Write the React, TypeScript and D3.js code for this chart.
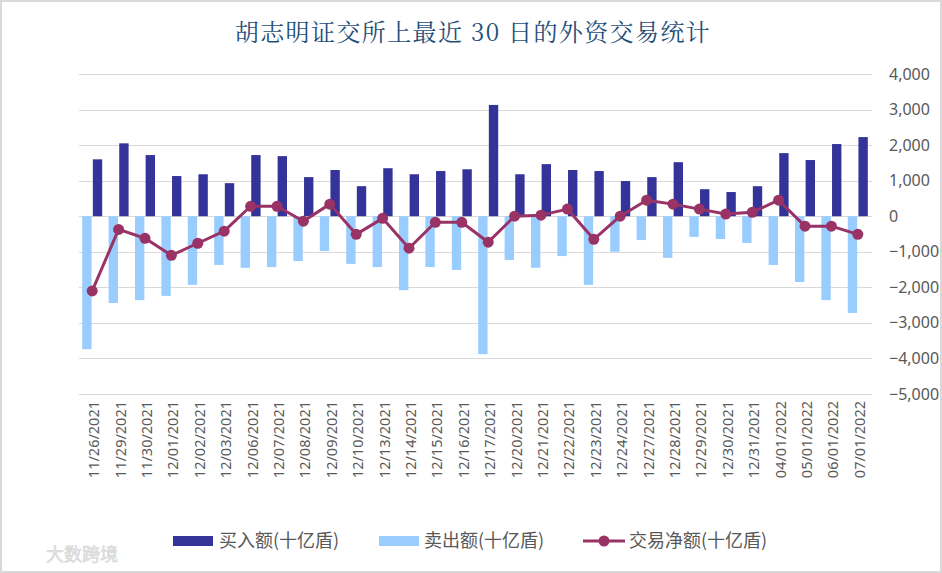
import React, { useEffect, useRef } from 'react';
import * as d3 from 'd3';

const dates = [
  '11/26/2021', '11/29/2021', '11/30/2021', '12/01/2021', '12/02/2021', '12/03/2021',
  '12/06/2021', '12/07/2021', '12/08/2021', '12/09/2021', '12/10/2021', '12/13/2021',
  '12/14/2021', '12/15/2021', '12/16/2021', '12/17/2021', '12/20/2021', '12/21/2021',
  '12/22/2021', '12/23/2021', '12/24/2021', '12/27/2021', '12/28/2021', '12/29/2021',
  '12/30/2021', '12/31/2021', '04/01/2022', '05/01/2022', '06/01/2022', '07/01/2022',
];

// 买入额 (十亿盾)
const buyValues = [
  1600, 2050, 1720, 1130, 1180, 930, 1720, 1690, 1100, 1300, 845, 1350, 1180, 1270, 1320,
  3130, 1180, 1465, 1300, 1270, 990, 1100, 1520, 760, 680, 845, 1775, 1580, 2030, 2225,
];

// 卖出额 (十亿盾)
const sellValues = [
  -3740, -2440, -2360, -2240, -1930, -1370, -1450, -1430, -1260, -980, -1340, -1430, -2080,
  -1430, -1510, -3880, -1230, -1450, -1120, -1930, -1000, -670, -1170, -580, -640, -750,
  -1370, -1850, -2360, -2720,
];

// 交易净额 (十亿盾)
const netValues = [
  -2100, -370, -620, -1100, -760, -420, 280, 280, -140, 340, -510, -60, -900, -170, -170,
  -730, 0, 30, 200, -650, 0, 450, 340, 200, 60, 110, 450, -280, -280, -510,
];

const yTicks = [4000, 3000, 2000, 1000, 0, -1000, -2000, -3000, -4000, -5000];

const legendItems = ['买入额(十亿盾)', '卖出额(十亿盾)', '交易净额(十亿盾)'];

const W = 942;
const H = 573;
const COLORS = { buy: '#333399', sell: '#99ccff', net: '#993366' };
const CJK = '"Noto Sans CJK SC", "Noto Sans", sans-serif';
const LATIN = '"Noto Sans", "Noto Sans CJK SC", sans-serif';

const App = () => {
  const svgRef = useRef<SVGSVGElement | null>(null);

  useEffect(() => {
    if (!svgRef.current) return;
    const svg = d3.select(svgRef.current);
    svg.selectAll('*').remove();

    svg
      .append('rect')
      .attr('x', 1)
      .attr('y', 1)
      .attr('width', W - 2)
      .attr('height', H - 2)
      .attr('fill', '#fff')
      .attr('stroke', '#d9d9d9')
      .attr('stroke-width', 2);

    // title
    svg
      .append('text')
      .attr('x', 473)
      .attr('y', 41)
      .attr('text-anchor', 'middle')
      .attr('font-family', '"Noto Serif CJK SC", "Noto Sans CJK SC", serif')
      .attr('font-size', 24)
      .attr('letter-spacing', 1.4)
      .attr('fill', '#1f4e79')
      .text('胡志明证交所上最近 30 日的外资交易统计');

    const xScale = d3.scaleBand<string>().domain(dates).range([79, 871]).padding(0);
    const bw = xScale.bandwidth();
    const sub = d3
      .scaleBand<string>()
      .domain(['sell', 'buy'])
      .range([bw / 2 - 10, bw / 2 + 10])
      .paddingInner(0.12);
    const yScale = d3.scaleLinear().domain([-5000, 4000]).range([394, 74]);

    // gridlines
    svg
      .append('g')
      .selectAll('line')
      .data(yTicks)
      .enter()
      .append('line')
      .attr('x1', 79)
      .attr('x2', 872)
      .attr('y1', (d) => Math.round(yScale(d)) + 0.5)
      .attr('y2', (d) => Math.round(yScale(d)) + 0.5)
      .attr('stroke', '#d9d9d9')
      .attr('stroke-width', 1);

    // y labels (right side)
    svg
      .append('g')
      .selectAll('text')
      .data(yTicks)
      .enter()
      .append('text')
      .attr('x', 889)
      .attr('y', (d) => yScale(d))
      .attr('dy', '0.35em')
      .attr('font-family', LATIN)
      .attr('font-size', 16)
      .attr('fill', '#595959')
      .text((d) => d3.format(',')(d));

    // x labels
    svg
      .append('g')
      .selectAll('text')
      .data(dates)
      .enter()
      .append('text')
      .attr('transform', (d) => `translate(${xScale(d)! + bw / 2 + 2}, 401) rotate(-90)`)
      .attr('text-anchor', 'end')
      .attr('dy', '0.35em')
      .attr('font-family', LATIN)
      .attr('font-size', 14.5)
      .attr('fill', '#595959')
      .text((d) => d);

    // sell bars
    svg
      .append('g')
      .selectAll('rect')
      .data(sellValues)
      .enter()
      .append('rect')
      .attr('x', (_, i) => xScale(dates[i])! + sub('sell')!)
      .attr('y', yScale(0))
      .attr('width', sub.bandwidth())
      .attr('height', (d) => yScale(d) - yScale(0))
      .attr('fill', COLORS.sell);

    // buy bars
    svg
      .append('g')
      .selectAll('rect')
      .data(buyValues)
      .enter()
      .append('rect')
      .attr('x', (_, i) => xScale(dates[i])! + sub('buy')!)
      .attr('y', (d) => yScale(d))
      .attr('width', sub.bandwidth())
      .attr('height', (d) => yScale(0) - yScale(d))
      .attr('fill', COLORS.buy);

    // net line
    const line = d3
      .line<number>()
      .x((_, i) => xScale(dates[i])! + bw / 2)
      .y((d) => yScale(d));

    svg
      .append('path')
      .datum(netValues)
      .attr('d', line)
      .attr('fill', 'none')
      .attr('stroke', COLORS.net)
      .attr('stroke-width', 3)
      .attr('stroke-linejoin', 'round');

    svg
      .append('g')
      .selectAll('circle')
      .data(netValues)
      .enter()
      .append('circle')
      .attr('cx', (_, i) => xScale(dates[i])! + bw / 2)
      .attr('cy', (d) => yScale(d))
      .attr('r', 5.5)
      .attr('fill', COLORS.net);

    // legend
    const legend = svg.append('g').attr('font-family', CJK).attr('font-size', 18).attr('fill', '#595959');
    const ly = 541;
    legend.append('rect').attr('x', 173).attr('y', ly - 5).attr('width', 40).attr('height', 10).attr('fill', COLORS.buy);
    legend.append('text').attr('x', 219).attr('y', ly).attr('dy', '0.35em').text(legendItems[0]);
    legend.append('rect').attr('x', 379).attr('y', ly - 5).attr('width', 40).attr('height', 10).attr('fill', COLORS.sell);
    legend.append('text').attr('x', 424).attr('y', ly).attr('dy', '0.35em').text(legendItems[1]);
    legend
      .append('line')
      .attr('x1', 583)
      .attr('x2', 625)
      .attr('y1', ly)
      .attr('y2', ly)
      .attr('stroke', COLORS.net)
      .attr('stroke-width', 3);
    legend.append('circle').attr('cx', 604).attr('cy', ly).attr('r', 5.5).attr('fill', COLORS.net);
    legend.append('text').attr('x', 629).attr('y', ly).attr('dy', '0.35em').text(legendItems[2]);

    // watermark
    svg
      .append('text')
      .attr('x', 46)
      .attr('y', 561)
      .attr('font-family', CJK)
      .attr('font-size', 18)
      .attr('fill', '#e3e3e3')
      .attr('stroke', '#d6d6d6')
      .attr('stroke-width', 0.6)
      .text('大数跨境');
  }, []);

  return (
    <svg
      ref={svgRef}
      width={W}
      height={H}
      style={{ position: 'absolute', left: 0, top: 0, display: 'block' }}
    />
  );
};

export default App;
